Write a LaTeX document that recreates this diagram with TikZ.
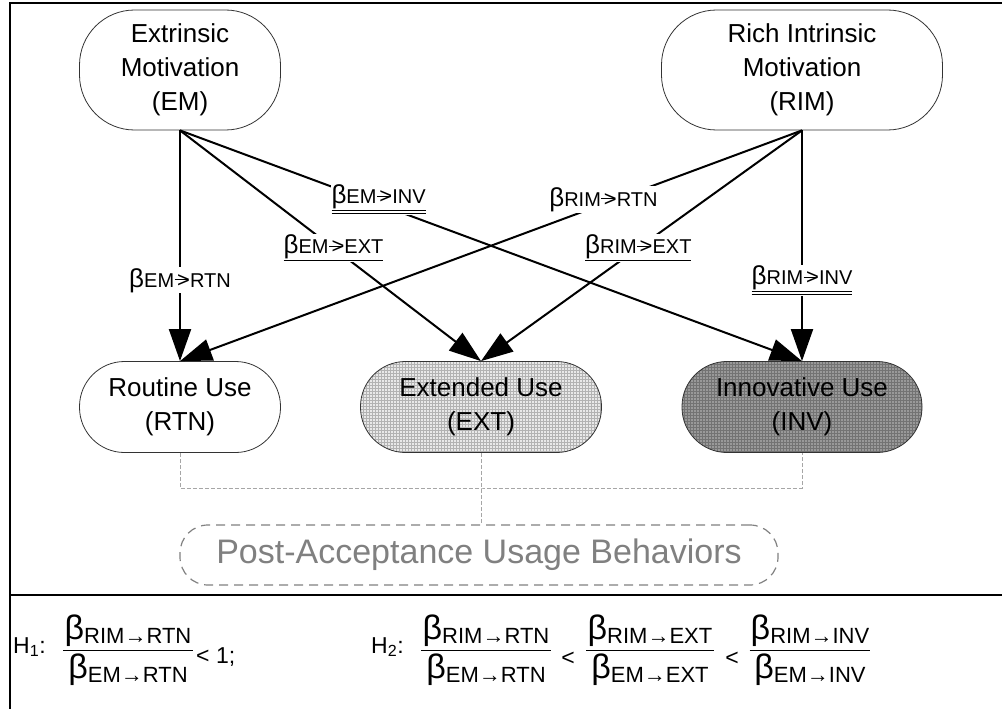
\documentclass[tikz,border=0pt]{standalone}
\usepackage{fontspec}
\setmainfont{Liberation Sans}
\usetikzlibrary{arrows.meta, patterns}

\newcommand{\toarrow}{\kern0.5pt\rule[7pt]{13pt}{1.2pt}\kern-10.5pt{\fontsize{22}{22}\selectfont>}}
\newcommand{\bta}[1]{{\fontsize{26}{26}\selectfont β}#1}
\newcommand{\ulone}[1]{\vtop{\hbox{#1}\kern1pt\hrule height 1.1pt}}
\newcommand{\ultwo}[1]{\vtop{\hbox{#1}\kern1pt\hrule height 1.1pt\kern1.5pt\hrule height 1.1pt}}
\newcommand{\bsub}[1]{{\fontsize{34}{34}\selectfont β}\raisebox{-4pt}{\fontsize{22}{22}\selectfont #1}}

\begin{document}
\begin{tikzpicture}[x=1pt, y=-1pt, >={Triangle[length=32pt,width=22pt]},
  construct/.style={draw=black!80, line width=0.8pt, align=center,
    font=\fontsize{26}{34}\selectfont, inner sep=0pt},
  effect/.style={->, line width=2pt},
  coef/.style={fill=white, inner sep=1pt, font=\fontsize{20}{20}\selectfont},
  bus/.style={gray!70, line width=0.6pt, dash pattern=on 4pt off 2pt},
  frame/.style={line width=2.5pt},
  rel/.style={inner sep=1pt, font=\fontsize{23}{23}\selectfont}]
  \useasboundingbox (0,0) rectangle (1002,709);

  % frame
  \draw[frame] (10,709) -- (10,3) -- (1002,3);
  \draw[frame] (10,595) -- (1002,595);

  % motivations
  \node[construct, minimum width=201pt, minimum height=120pt, rounded corners=55pt]
    (EM) at (180,70) {Extrinsic\\Motivation\\(EM)};
  \node[construct, minimum width=281pt, minimum height=120pt, rounded corners=55pt]
    (RIM) at (802,70) {Rich Intrinsic\\Motivation\\(RIM)};

  % usage behaviors
  \node[construct, minimum width=201pt, minimum height=91pt, rounded corners=45pt]
    (RTN) at (180,407) {Routine Use\\(RTN)};
  \node[construct, minimum width=241pt, minimum height=91pt, rounded corners=45pt,
    preaction={fill=gray!18}, pattern=grid, pattern color=gray!60]
    (EXT) at (481,407) {Extended Use\\(EXT)};
  \node[construct, minimum width=240pt, minimum height=91pt, rounded corners=45pt,
    preaction={fill=gray!80}, pattern=grid, pattern color=black!55]
    (INV) at (802,407) {Innovative Use\\(INV)};

  % paths
  \draw[effect] (EM.south) -- node[coef, pos=0.65] {\bta{EM\toarrow RTN}} (RTN.north);
  \draw[effect] (EM.south) -- node[coef, pos=0.51] {\ulone{\bta{EM\toarrow EXT}}} (EXT.north);
  \draw[effect] (EM.south) -- node[coef, pos=0.30, xshift=12pt] {\ultwo{\bta{EM\toarrow INV}}} (INV.north);
  \draw[effect] (RIM.south) -- node[coef, pos=0.30, xshift=-12pt] {\bta{RIM\toarrow RTN}} (RTN.north);
  \draw[effect] (RIM.south) -- node[coef, pos=0.51] {\ulone{\bta{RIM\toarrow EXT}}} (EXT.north);
  \draw[effect] (RIM.south) -- node[coef, pos=0.65] {\ultwo{\bta{RIM\toarrow INV}}} (INV.north);

  % grouping
  \node[draw=gray, line width=1.2pt, dash pattern=on 9pt off 6pt, rounded corners=28pt,
    minimum width=598pt, minimum height=60pt, text=gray,
    font=\fontsize{34}{34}\selectfont] (PAUB) at (479,555) {Post-Acceptance Usage Behaviors};
  \coordinate (bus) at (481,488);
  \draw[bus] (RTN.south) |- (bus) -| (INV.south);
  \draw[bus] (EXT.south) -- (EXT.south |- PAUB.north);

  % hypotheses
  \node[rel, anchor=west] (H1) at (12,647) {H\textsubscript{1}:};
  \node[rel, anchor=west] (H2) at (370,647) {H\textsubscript{2}:};
  \foreach \fx/\tgt [count=\i] in {128/RTN, 486/RTN, 650/EXT, 810/INV} {
    \node[anchor=south, inner sep=1pt] (num\i) at (\fx,648) {\bsub{RIM→\tgt}};
    \node[anchor=north, inner sep=1pt] (den\i) at (\fx,653) {\bsub{EM→\tgt}};
    \draw[line width=1pt] ([yshift=-2pt]num\i.south west) -- ([yshift=-2pt]num\i.south east);
  }
  \node[rel, anchor=west] (lt1) at (195,657) {< 1;};
  \node[rel] (lt2) at (568,659) {<};
  \node[rel] (lt3) at (732,659) {<};
\end{tikzpicture}
\end{document}
